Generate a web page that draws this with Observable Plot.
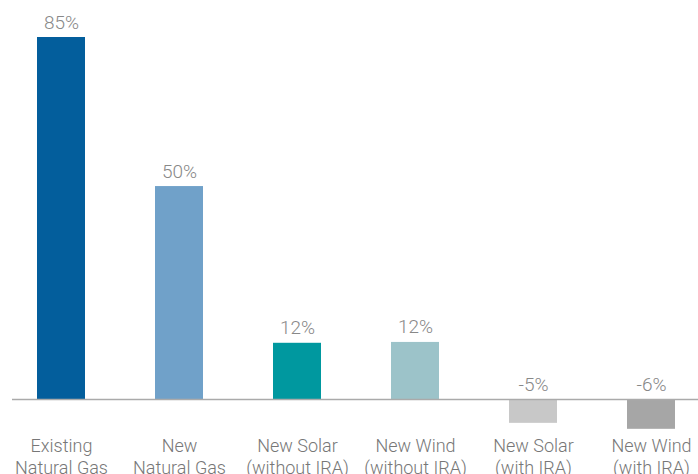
<!DOCTYPE html>
<html>
<head>
<meta charset="utf-8">
<script src="https://cdn.jsdelivr.net/npm/d3@7"></script>
<script src="https://cdn.jsdelivr.net/npm/@observablehq/plot@0.6"></script>
<style>
  html, body { margin: 0; padding: 0; background: #fff; }
  svg text { font-weight: 300; }
</style>
</head>
<body>
<div id="chart"></div>
<script>
const categories = [
  "Existing\nNatural Gas",
  "New\nNatural Gas",
  "New Solar\n(without IRA)",
  "New Wind\n(without IRA)",
  "New Solar\n(with IRA)",
  "New Wind\n(with IRA)"
];
const values = [85, 50, 13.2, 13.4, -5.6, -7.0];
const valueLabels = ["85%", "50%", "12%", "12%", "-5%", "-6%"];
const colors = ["#035e9c", "#70a1c9", "#00989f", "#9cc3c9", "#c8c8c8", "#a6a6a6"];

const data = categories.map((c, i) => ({
  cat: c, value: values[i], label: valueLabels[i], color: colors[i]
}));

const chart = Plot.plot({
  width: 698,
  height: 474,
  marginTop: 37,
  marginBottom: 75,
  marginLeft: 12,
  marginRight: 0,
  style: { fontFamily: "Roboto, 'Liberation Sans', sans-serif", fontSize: "18px", color: "#7a7a7a", background: "#fff" },
  x: { domain: categories, range: [0.8, 711.2], paddingInner: 0.595, paddingOuter: 0.2975, axis: null },
  y: { domain: [0, 85], axis: null },
  marks: [
    Plot.barY(data, { x: "cat", y: "value", fill: "color" }),
    Plot.ruleY([0], { stroke: "#aaaaaa", strokeWidth: 1.5 }),
    Plot.text(data, {
      x: "cat",
      y: d => Math.max(d.value, 0),
      text: "label",
      dy: -9,
      lineAnchor: "bottom",
      fill: "#888888",
      fontSize: 19
    }),
    Plot.axisX({
      anchor: "bottom",
      tickSize: 0,
      tickPadding: 37,
      fontSize: 18,
      lineHeight: 1.22,
      fill: "#777777",
      label: null
    })
  ]
});
document.getElementById("chart").appendChild(chart);
</script>
</body>
</html>
